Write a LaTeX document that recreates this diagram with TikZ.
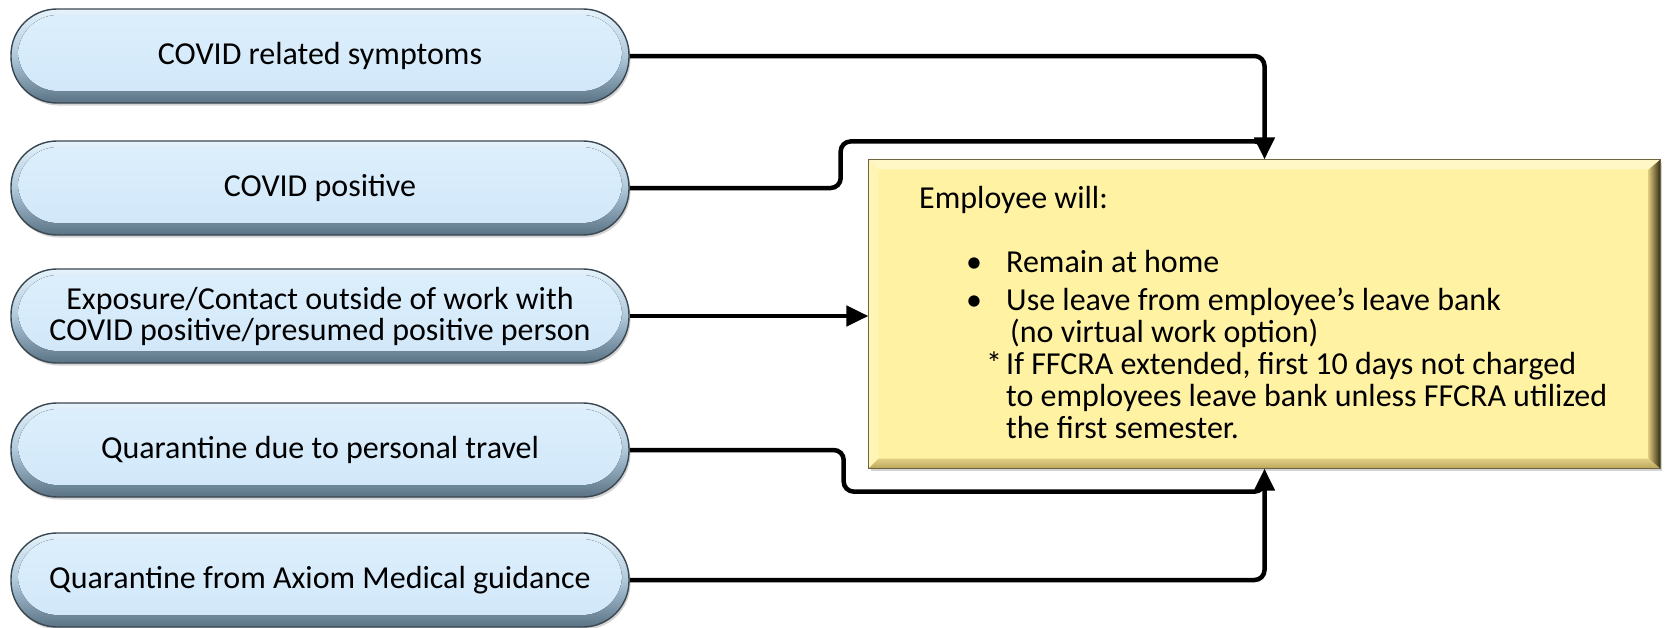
\documentclass[tikz,border=0pt]{standalone}
\usepackage{fontspec}
\setmainfont{Carlito}
\usetikzlibrary{arrows.meta,shadows,calc}
\definecolor{blueRim}{HTML}{3A4650}
\definecolor{blueT}{HTML}{E6F3FC}
\definecolor{blueM}{HTML}{AFC9DC}
\definecolor{blueB}{HTML}{5A7284}
\definecolor{faceT}{HTML}{DDEFFC}
\definecolor{faceB}{HTML}{D0E7F9}
\definecolor{yFace}{HTML}{FFF2A3}
\definecolor{yTop}{HTML}{FFF8C6}
\definecolor{yLeft}{HTML}{FFF5B6}
\definecolor{yRim}{HTML}{6E6440}
\definecolor{yR1}{HTML}{D9C47A}
\definecolor{yR2}{HTML}{2E2810}
\definecolor{yB1}{HTML}{E2CF86}
\definecolor{yB2}{HTML}{B9A55A}
\newcommand{\boxfont}{\fontsize{32}{31}\selectfont}
\begin{document}
\begin{tikzpicture}[x=1pt,y=-1pt,
  bluebox/.style={rounded corners=46pt, minimum width=618pt, minimum height=94pt,
    draw=blueRim, line width=1.4pt, top color=blueT, bottom color=blueB, middle color=blueM,
    align=center, font=\boxfont, inner sep=0pt,
    drop shadow={shadow xshift=1.5pt, shadow yshift=-2.5pt, opacity=0.35},
    path picture={\fill[top color=faceT, bottom color=faceB, rounded corners=40pt]
      ($(path picture bounding box.north west)+(7,6)$) rectangle
      ($(path picture bounding box.south east)+(-7,-12)$);}},
  ybox/.style={minimum width=791pt, minimum height=308pt, fill=yFace, draw=yRim,
    line width=1.2pt, inner sep=0pt,
    drop shadow={shadow xshift=2pt, shadow yshift=-2.5pt, opacity=0.35}},
  ytext/.style={anchor=base west, inner sep=0pt, font=\boxfont},
  conn/.style={line width=4.5pt, rounded corners=10pt},
  arr/.style={-{Triangle[length=22pt,width=20pt]}}]
\useasboundingbox (0,0) rectangle (1666,627);

% left boxes
\node[bluebox] (b1) at (320,56) {COVID related symptoms};
\node[bluebox] (b2) at (320,188) {COVID positive};
\node[bluebox] (b3) at (320,316) {Exposure/Contact outside of work with\\COVID positive/presumed positive person};
\node[bluebox] (b4) at (320,450) {Quarantine due to personal travel};
\node[bluebox] (b5) at (320,580) {Quarantine from Axiom Medical guidance};

% yellow box
\node[ybox] (y) at (1264.5,314) {};
\fill[yTop] (y.north west) -- (y.north east) -- ($(y.north east)+(-12,10)$) -- ($(y.north west)+(10,10)$) -- cycle;
\fill[yLeft] (y.north west) -- ($(y.north west)+(10,10)$) -- ($(y.south west)+(10,-10)$) -- (y.south west) -- cycle;
\shade[top color=yB1, bottom color=yB2] (y.south west) -- (y.south east) -- ($(y.south east)+(-12,-10)$) -- ($(y.south west)+(10,-10)$) -- cycle;
\shade[left color=yR1, right color=yR2] (y.north east) -- (y.south east) -- ($(y.south east)+(-12,-10)$) -- ($(y.north east)+(-12,10)$) -- cycle;
\draw[yRim, line width=1.2pt] (y.north west) rectangle (y.south east);

% text in yellow box
\node[ytext] (t1) at (919,208) {Employee will:};
\node[ytext] (t2b) at (966,272) {•};
\node[ytext] (t2) at (1006,272) {Remain at home};
\node[ytext] (t3b) at (966,310) {•};
\node[ytext] (t3) at (1006,310) {Use leave from employee’s leave bank};
\node[ytext] (t4) at (1010,342) {(no virtual work option)};
\node[ytext] (t5s) at (986,374) {*};
\node[ytext] (t5) at (1006,374) {If FFCRA extended, first 10 days not charged};
\node[ytext] (t6) at (1006,406) {to employees leave bank unless FFCRA utilized};
\node[ytext] (t7) at (1006,438) {the first semester.};

% connectors
\draw[conn] (b2.east) -- ++(211,0) |- ([yshift=18pt]y.north) -- ([yshift=6pt]y.north);
\draw[conn,arr] (b1.east) -| (y.north);
\draw[conn,arr] (b3.east) -- (b3.east -| y.west);
\draw[conn] (b4.east) -- ++(214,0) |- ([yshift=-23pt]y.south) -- ([yshift=-6pt]y.south);
\draw[conn,arr] (b5.east) -| (y.south);
\end{tikzpicture}
\end{document}
